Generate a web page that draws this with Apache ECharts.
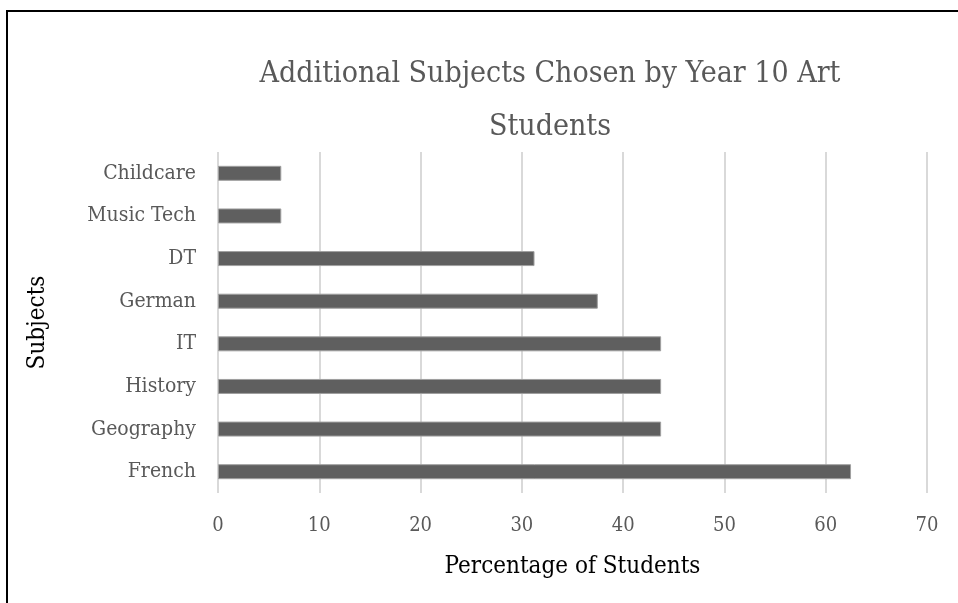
<!DOCTYPE html>
<html>
<head>
<meta charset="utf-8">
<script src="https://cdn.jsdelivr.net/npm/echarts@6/dist/echarts.min.js"></script>
<style>
html,body{margin:0;padding:0;background:#fff;overflow:hidden;width:958px;height:603px;}
#frame{position:absolute;left:6px;top:10px;width:1000px;height:700px;border-left:2px solid #000;border-top:2px solid #000;}
#chart{position:absolute;left:0;top:0;width:958px;height:603px;}
</style>
</head>
<body>
<div id="frame"></div>
<div id="chart"></div>
<script>
const titleText = 'Additional Subjects Chosen by Year 10 Art\nStudents';
const subjects = ['French', 'Geography', 'History', 'IT', 'German', 'DT', 'Music Tech', 'Childcare'];
const percentages = [62.5, 43.75, 43.75, 43.75, 37.5, 31.25, 6.25, 6.25];
const xTicks = { min: 0, max: 70, interval: 10 };
const xName = 'Percentage of Students';
const yName = 'Subjects';

const font = 'DejaVu Serif Condensed, DejaVu Serif';
const chart = echarts.init(document.getElementById('chart'));
chart.setOption({
  animation: false,
  backgroundColor: 'transparent',
  title: {
    text: titleText,
    left: 545,
    textAlign: 'center',
    top: 43,
    textStyle: { fontFamily: font, fontSize: 30, fontWeight: 'normal', color: '#595959', lineHeight: 53 }
  },
  grid: { left: 218, right: 31, top: 152, bottom: 110 },
  xAxis: {
    type: 'value',
    min: xTicks.min, max: xTicks.max, interval: xTicks.interval,
    axisLine: { show: false },
    axisTick: { show: false },
    splitLine: { show: true, lineStyle: { color: '#d9d9d9', width: 2 } },
    axisLabel: { fontFamily: font, fontSize: 20, color: '#595959', margin: 23 },
    name: xName, nameLocation: 'middle', nameGap: 62,
    nameTextStyle: { fontFamily: font, fontSize: 24, color: '#000' }
  },
  yAxis: {
    type: 'category',
    data: subjects,
    axisLine: { show: false },
    axisTick: { show: false },
    axisLabel: { fontFamily: font, fontSize: 21, color: '#595959', margin: 22 },
    name: yName, nameLocation: 'middle', nameGap: 168, nameRotate: 90,
    nameTextStyle: { fontFamily: font, fontSize: 24, color: '#000' }
  },
  series: [{
    type: 'bar',
    data: percentages,
    barWidth: 15,
    itemStyle: { color: '#5f5f5f', borderColor: '#a0a0a0', borderWidth: 1 }
  }]
});
</script>
</body>
</html>
